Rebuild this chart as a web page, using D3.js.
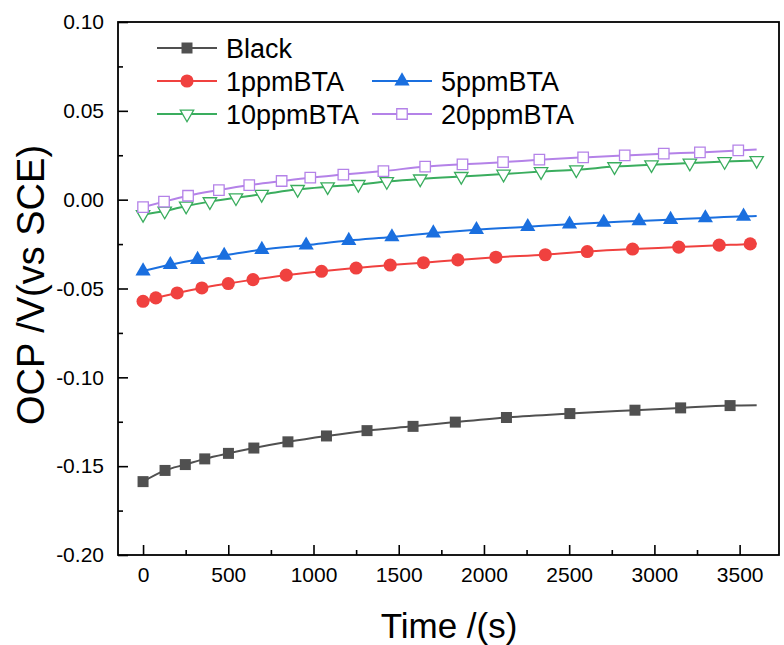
<!DOCTYPE html>
<html>
<head>
<meta charset="utf-8">
<script src="https://cdn.jsdelivr.net/npm/d3@7"></script>
<style>
  body { margin: 0; background: #fff; }
  text { font-family: "Liberation Sans", Arial, sans-serif; fill: #000; }
</style>
</head>
<body>
<div id="chart-area"></div>
<script>
// marker points (time in s, OCP in V)
const blackT = [0, 129, 248, 362, 501, 650, 850, 1076, 1314, 1584, 1832, 2132, 2504, 2886, 3154, 3444];
const blackV = [-0.1587, -0.1524, -0.1491, -0.1459, -0.1428, -0.1398, -0.1363, -0.1330, -0.1300, -0.1276, -0.1252, -0.1226, -0.1204, -0.1185, -0.1172, -0.1159];

const bta1T = [0, 75, 200, 345, 500, 645, 840, 1047, 1250, 1450, 1645, 1847, 2070, 2360, 2606, 2872, 3143, 3380, 3562];
const bta1V = [-0.0572, -0.0553, -0.0525, -0.0497, -0.0472, -0.0450, -0.0425, -0.0403, -0.0385, -0.0368, -0.0355, -0.0339, -0.0324, -0.0310, -0.0292, -0.0278, -0.0267, -0.0256, -0.0249];

const bta5T = [0, 160, 320, 476, 697, 957, 1207, 1460, 1703, 1956, 2257, 2502, 2703, 2910, 3095, 3299, 3523];
const bta5V = [-0.0402, -0.0366, -0.0337, -0.0314, -0.0281, -0.0256, -0.0230, -0.0210, -0.0188, -0.0169, -0.0152, -0.0138, -0.0128, -0.0120, -0.0112, -0.0103, -0.0094];

const bta10T = [0, 127, 253, 392, 545, 696, 907, 1083, 1263, 1430, 1626, 1867, 2115, 2335, 2542, 2766, 2983, 3208, 3412, 3600];
const bta10V = [-0.0083, -0.0064, -0.0036, -0.0011, 0.0011, 0.0030, 0.0058, 0.0073, 0.0086, 0.0102, 0.0117, 0.0131, 0.0144, 0.0158, 0.0168, 0.0186, 0.0197, 0.0206, 0.0215, 0.0221];

const bta20T = [0, 123, 264, 445, 623, 813, 981, 1175, 1410, 1655, 1874, 2112, 2325, 2582, 2826, 3055, 3267, 3492];
const bta20V = [-0.0042, -0.0011, 0.0022, 0.0054, 0.0082, 0.0105, 0.0124, 0.0141, 0.0161, 0.0186, 0.0199, 0.0211, 0.0225, 0.0238, 0.0249, 0.0259, 0.0266, 0.0277];

// where each curve stops (the recording runs to 3600 s)
const endT = 3600;
const endV = [-0.1157, -0.0246, -0.0092, 0.0221, 0.0283];

const names = ["Black", "1ppmBTA", "5ppmBTA", "10ppmBTA", "20ppmBTA"];
const colors = ["#505050", "#f0413f", "#1a6fdf", "#3aad5e", "#b482e8"];

const xTicks = [0, 500, 1000, 1500, 2000, 2500, 3000, 3500];
const yTicks = [0.10, 0.05, 0.00, -0.05, -0.10, -0.15, -0.20];

const series = [
  { t: blackT, v: blackV, sym: "square", fill: true, size: 121 },
  { t: bta1T, v: bta1V, sym: "circle", fill: true, size: 135 },
  { t: bta5T, v: bta5V, sym: "triangle", fill: true, size: 100 },
  { t: bta10T, v: bta10V, sym: "triangleDown", fill: false, size: 78 },
  { t: bta20T, v: bta20V, sym: "square", fill: false, size: 110 }
].map((s, i) => ({
  ...s,
  name: names[i],
  color: colors[i],
  points: s.t.map((t, j) => ({ t: t, v: s.v[j] })),
  endV: endV[i]
}));

const svgWidth = 784;
const svgHeight = 645;
const margin = { top: 22, right: 5, bottom: 90, left: 118 };
const width = svgWidth - margin.left - margin.right;
const height = svgHeight - margin.top - margin.bottom;

const svg = d3.select("#chart-area")
              .append("svg")
              .attr("width", svgWidth)
              .attr("height", svgHeight);

const g = svg.append("g")
             .attr("transform", `translate(${margin.left}, ${margin.top})`);

const x = d3.scaleLinear()
            .domain([-147, 3731])
            .range([0, width]);

const y = d3.scaleLinear()
            .domain([-0.20, 0.10])
            .range([height, 0]);

// minor ticks halfway between the labelled ones
const xMinor = d3.range(250, 3750, 500);
const yMinor = d3.range(-0.175, 0.1, 0.05);

const xAxisCall = d3.axisBottom(x)
                    .tickValues(xTicks)
                    .tickSize(-10)
                    .tickPadding(12)
                    .tickFormat(d3.format("d"));

// plain hyphen for negatives, as in the original
const yAxisCall = d3.axisLeft(y)
                    .tickValues(yTicks)
                    .tickSize(-10)
                    .tickPadding(14)
                    .tickFormat(d => d3.format(".2f")(d).replace("\u2212", "-"));

const xAxis = g.append("g")
               .attr("class", "x-axis")
               .attr("transform", `translate(0, ${height})`)
               .call(xAxisCall);

xAxis.selectAll("text")
     .attr("font-size", 21)
     .attr("dy", "0.71em");

g.append("g")
 .attr("transform", `translate(0, ${height})`)
 .call(d3.axisBottom(x).tickValues(xMinor).tickSize(-5).tickFormat(""));

const yAxis = g.append("g")
               .attr("class", "y-axis")
               .call(yAxisCall);

yAxis.selectAll("text")
     .attr("font-size", 21);

g.append("g")
 .call(d3.axisLeft(y).tickValues(yMinor).tickSize(-5).tickFormat(""));

g.selectAll(".domain").remove();
g.selectAll(".tick line")
 .attr("stroke", "#000")
 .attr("stroke-width", 1.6);

// frame
g.append("rect")
 .attr("x", 0)
 .attr("y", 0)
 .attr("width", width)
 .attr("height", height)
 .attr("fill", "none")
 .attr("stroke", "#000")
 .attr("stroke-width", 1.8);

const line = d3.line()
               .curve(d3.curveMonotoneX)
               .x(d => x(d.t))
               .y(d => y(d.v));

const symbolOf = name => {
  if (name === "circle") return d3.symbolCircle;
  if (name === "square") return d3.symbolSquare;
  return d3.symbolTriangle;
};

const drawMarker = (sel, s) => {
  sel.attr("d", d3.symbol().type(symbolOf(s.sym)).size(s.size))
     .attr("fill", s.fill ? s.color : "#fff")
     .attr("stroke", s.color)
     .attr("stroke-width", s.fill ? 0 : 1.3);
};

const plot = g.append("g");

series.forEach(s => {
  const pts = s.points.slice();
  if (pts[pts.length - 1].t < endT) pts.push({ t: endT, v: s.endV });

  plot.append("path")
      .datum(pts)
      .attr("fill", "none")
      .attr("stroke", s.color)
      .attr("stroke-width", 2)
      .attr("d", line);

  const rot = s.sym === "triangleDown" ? " rotate(180)" : "";
  plot.selectAll(null)
      .data(s.points)
      .enter()
      .append("path")
        .attr("transform", d => `translate(${x(d.t)}, ${y(d.v)})${rot}`)
        .call(drawMarker, s);
});

// legend
const legendPos = [
  { x: 157, y: 48 },
  { x: 157, y: 81 },
  { x: 372, y: 81 },
  { x: 157, y: 114 },
  { x: 372, y: 114 }
];

const legend = svg.append("g");

series.forEach((s, i) => {
  const p = legendPos[i];
  const item = legend.append("g")
                     .attr("transform", `translate(${p.x}, ${p.y})`);

  item.append("line")
      .attr("x1", 0)
      .attr("x2", 60)
      .attr("stroke", s.color)
      .attr("stroke-width", 2);

  const rot = s.sym === "triangleDown" ? " rotate(180)" : "";
  item.append("path")
      .attr("transform", `translate(30, 0)${rot}`)
      .call(drawMarker, s);

  item.append("text")
      .attr("x", 69)
      .attr("dy", "0.36em")
      .attr("font-size", 27)
      .text(s.name);
});

svg.append("text")
   .attr("x", 449)
   .attr("y", 638)
   .attr("text-anchor", "middle")
   .attr("font-size", 35)
   .text("Time /(s)");

svg.append("text")
   .attr("text-anchor", "middle")
   .attr("transform", "rotate(-90)")
   .attr("x", -285)
   .attr("y", 44)
   .attr("font-size", 38)
   .text("OCP /V(vs SCE)");
</script>
</body>
</html>
